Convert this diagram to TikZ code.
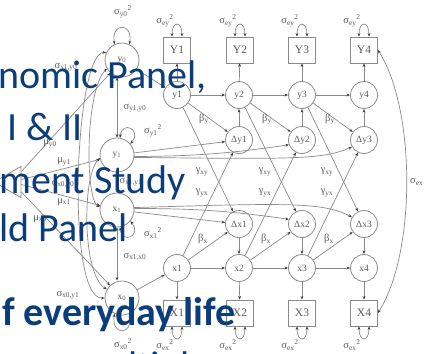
\documentclass[tikz,border=0pt]{standalone}
\usepackage{fontspec}
\setmainfont{Liberation Serif}
\newfontfamily\slidefont{Carlito}
\usepackage{xcolor}
\definecolor{lineGray}{HTML}{8A8A8A}
\definecolor{tipGray}{HTML}{3C3C3C}
\definecolor{labelGray}{HTML}{5A5A5A}
\definecolor{slideBlue}{HTML}{0B3D7C}
\usepackage{tikz}
\usetikzlibrary{shapes.geometric, arrows.meta, calc}
\newcommand{\parlab}[3]{#1\textsubscript{#2}\textsuperscript{#3}}

\begin{document}
\begin{tikzpicture}[
        x=1pt, y=1pt,
        >={Stealth[length=3.6pt,width=2.8pt,color=tipGray]},
        obsBox/.style={
            draw=lineGray,
            line width=0.8pt,
            minimum width=27pt,
            minimum height=26pt,
            inner sep=0pt,
            font=\fontsize{11.5}{12}\selectfont,
            text=labelGray
        },
        latNode/.style={
            circle,
            draw=lineGray,
            line width=0.8pt,
            minimum size=27pt,
            inner sep=0pt,
            font=\fontsize{9.5}{10}\selectfont,
            text=labelGray
        },
        initNode/.style={
            latNode,
            minimum size=34pt
        },
        constTri/.style={
            regular polygon,
            regular polygon sides=3,
            shape border rotate=90,
            draw=lineGray,
            line width=0.8pt,
            minimum size=36pt,
            inner sep=0pt
        },
        coefLabel/.style={
            font=\fontsize{10.5}{11}\selectfont,
            text=labelGray,
            inner sep=0pt
        },
        pathArrow/.style={
            ->,
            draw=lineGray,
            line width=0.7pt
        },
        covArrow/.style={
            <->,
            draw=lineGray,
            line width=0.7pt
        },
        slideLine/.style={
            font=\slidefont\fontsize{40}{48}\selectfont,
            text=slideBlue,
            anchor=base west,
            inner sep=0pt
        }
    ]
    \useasboundingbox (0,0) rectangle (424,-354);
    \clip (0,0) rectangle (424,-354);

    % Observed scores
    \node[obsBox] (Y1) at (177,-50) {Y1};
    \node[obsBox] (Y2) at (240,-50) {Y2};
    \node[obsBox] (Y3) at (302,-50) {Y3};
    \node[obsBox] (Y4) at (364,-50) {Y4};

    \node[obsBox] (X1) at (177,-313) {X1};
    \node[obsBox] (X2) at (240,-313) {X2};
    \node[obsBox] (X3) at (302,-313) {X3};
    \node[obsBox] (X4) at (364,-313) {X4};

    % True scores and latent changes
    \node[latNode] (y1) at (177,-95) {y1};
    \node[latNode] (y2) at (239,-95) {y2};
    \node[latNode] (y3) at (302,-95) {y3};
    \node[latNode] (y4) at (364,-95) {y4};

    \node[latNode] (dy1) at (239,-140) {Δy1};
    \node[latNode] (dy2) at (302,-140) {Δy2};
    \node[latNode] (dy3) at (364,-140) {Δy3};

    \node[latNode] (dx1) at (239,-224) {Δx1};
    \node[latNode] (dx2) at (302,-224) {Δx2};
    \node[latNode] (dx3) at (364,-224) {Δx3};

    \node[latNode] (x1) at (177,-268) {x1};
    \node[latNode] (x2) at (239,-268) {x2};
    \node[latNode] (x3) at (302,-268) {x3};
    \node[latNode] (x4) at (364,-268) {x4};

    % Initial levels, slopes and the constant
    \node[initNode] (y0) at (122,-60) {y\textsubscript{0}};
    \node[initNode] (ys) at (117,-155) {y\textsubscript{1}};
    \node[initNode] (xs) at (117,-210) {x\textsubscript{1}};
    \node[initNode] (x0) at (122,-298) {x\textsubscript{0}};
    \node[constTri] (one) at (12,-182) {};

    % Measurement paths and error variances
    \foreach \t in {1,2,3,4} {
        \draw[pathArrow] (y\t) -- (Y\t);
        \draw[pathArrow] (x\t) -- (X\t);
        \draw[covArrow] ([xshift=-5pt]Y\t.north) .. controls +(0,16) and +(0,16) .. ([xshift=5pt]Y\t.north);
        \draw[covArrow] ([xshift=-5pt]X\t.south) .. controls +(0,-16) and +(0,-16) .. ([xshift=5pt]X\t.south);
        \node[coefLabel] (ey\t) at ([shift={(-12pt,16pt)}]Y\t.north) {\parlab{σ}{ey}{2}};
        \node[coefLabel] (ex\t) at ([shift={(-12pt,-19pt)}]X\t.south) {\parlab{σ}{ex}{2}};
    }
    \draw[covArrow] (Y4.east) .. controls (416,-110) and (416,-253) .. (X4.east);
    \node[coefLabel, anchor=west] (exy) at (410,-182) {σ\textsubscript{ex}};

    % Auto-proportions, couplings and changes
    \draw[pathArrow] (y0) -- (y1);
    \draw[pathArrow] (x0) -- (x1);
    \draw[pathArrow] (y1) -- (y2);
    \draw[pathArrow] (y2) -- (y3);
    \draw[pathArrow] (y3) -- (y4);
    \draw[pathArrow] (x1) -- (x2);
    \draw[pathArrow] (x2) -- (x3);
    \draw[pathArrow] (x3) -- (x4);

    \draw[pathArrow] (dy1) -- (y2);
    \draw[pathArrow] (dy2) -- (y3);
    \draw[pathArrow] (dy3) -- (y4);
    \draw[pathArrow] (dx1) -- (x2);
    \draw[pathArrow] (dx2) -- (x3);
    \draw[pathArrow] (dx3) -- (x4);

    \draw[pathArrow] (y1) -- (dy1);
    \draw[pathArrow] (y2) -- (dy2);
    \draw[pathArrow] (y3) -- (dy3);
    \draw[pathArrow] (x1) -- (dx1);
    \draw[pathArrow] (x2) -- (dx2);
    \draw[pathArrow] (x3) -- (dx3);

    \draw[pathArrow] (y1) -- (dx1);
    \draw[pathArrow] (y2) -- (dx2);
    \draw[pathArrow] (y3) -- (dx3);
    \draw[pathArrow] (x1) -- (dy1);
    \draw[pathArrow] (x2) -- (dy2);
    \draw[pathArrow] (x3) -- (dy3);

    \node[coefLabel] (by1) at (204,-119) {β\textsubscript{y}};
    \node[coefLabel] (by2) at (267,-119) {β\textsubscript{y}};
    \node[coefLabel] (by3) at (330,-119) {β\textsubscript{y}};
    \node[coefLabel] (bx1) at (203,-239) {β\textsubscript{x}};
    \node[coefLabel] (bx2) at (266,-239) {β\textsubscript{x}};
    \node[coefLabel] (bx3) at (329,-239) {β\textsubscript{x}};
    \node[coefLabel] (gxy1) at (202,-172) {γ\textsubscript{xy}};
    \node[coefLabel] (gxy2) at (265,-172) {γ\textsubscript{xy}};
    \node[coefLabel] (gxy3) at (327,-172) {γ\textsubscript{xy}};
    \node[coefLabel] (gyx1) at (202,-193) {γ\textsubscript{yx}};
    \node[coefLabel] (gyx2) at (265,-193) {γ\textsubscript{yx}};
    \node[coefLabel] (gyx3) at (327,-193) {γ\textsubscript{yx}};

    % Slope loadings
    \draw[pathArrow] (ys) -- (dy1);
    \draw[pathArrow] (ys.-5) to[bend right=4] (dy2.200);
    \draw[pathArrow] (ys.-8) .. controls (290,-159) and (322,-160) .. (dy3.210);
    \draw[pathArrow] (xs) -- (dx1);
    \draw[pathArrow] (xs.5) to[bend left=4] (dx2.160);
    \draw[pathArrow] (xs.8) .. controls (290,-203) and (322,-202) .. (dx3.150);

    % Means
    \draw[pathArrow] (one) -- (y0);
    \draw[pathArrow] (one) -- (ys);
    \draw[pathArrow] (one) -- (xs);
    \draw[pathArrow] (one) -- (x0);
    \node[coefLabel] (my0) at (50,-144) {μ\textsubscript{y0}};
    \node[coefLabel] (my1) at (64,-162) {μ\textsubscript{y1}};
    \node[coefLabel] (mx1) at (64,-202) {μ\textsubscript{x1}};
    \node[coefLabel] (mx0) at (40,-219) {μ\textsubscript{x0}};

    % Variances and covariances of levels and slopes
    \draw[covArrow] (y0.115) .. controls +(-4,22) and +(4,22) .. (y0.65);
    \draw[covArrow] (ys.80) .. controls +(2,18) and +(12,14) .. (ys.40);
    \draw[covArrow] (xs.-40) .. controls +(12,-14) and +(2,-18) .. (xs.-80);
    \draw[covArrow] (x0.-115) .. controls +(-4,-22) and +(4,-22) .. (x0.-65);
    \node[coefLabel] (vy0) at (123,-12) {\parlab{σ}{y0}{2}};
    \node[coefLabel] (vy1) at (153,-131) {\parlab{σ}{y1}{2}};
    \node[coefLabel] (vx1) at (153,-233) {\parlab{σ}{x1}{2}};
    \node[coefLabel] (vx0) at (123,-344) {\parlab{σ}{x0}{2}};

    \draw[covArrow] (y0.south -| ys.north) -- (ys.north);
    \draw[covArrow] (ys.south) -- (xs.north);
    \draw[covArrow] (xs.south) -- (x0.north -| xs.south);
    \draw[covArrow] (y0.155) .. controls (75,-50) and (65,-300) .. (x0.180);
    \draw[covArrow] (y0.210) .. controls (85,-90) and (85,-200) .. (xs.170);
    \draw[covArrow] (ys.190) .. controls (82,-175) and (82,-275) .. (x0.150);
    \node[coefLabel] (cy10) at (135,-108) {σ\textsubscript{y1,y0}};
    \node[coefLabel] (cxy1) at (131,-182) {σ\textsubscript{x1,y1}};
    \node[coefLabel] (cx10) at (135,-257) {σ\textsubscript{x1,x0}};
    \node[coefLabel] (cxy0) at (63,-184) {σ\textsubscript{x0,y0}};
    \node[coefLabel] (cx1y0) at (66,-67) {σ\textsubscript{x1,y0}};
    \node[coefLabel] (cx0y1) at (68,-295) {σ\textsubscript{x0,y1}};

    % Slide text over the figure
    \node[slideLine] (t1) at (-2,-88) {nomic Panel,};
    \node[slideLine] (t2) at (7,-140) {I \& II};
    \node[slideLine] (t3) at (-1,-193) {ment Study};
    \node[slideLine] (t4) at (-1,-241) {ld Panel};
    \node[slideLine, font=\slidefont\bfseries\fontsize{40}{48}\selectfont] (t5) at (2,-325) {f everyday life};
    \node[slideLine] (t6) at (75,-379) {multiple};

    \end{tikzpicture}
\end{document}
